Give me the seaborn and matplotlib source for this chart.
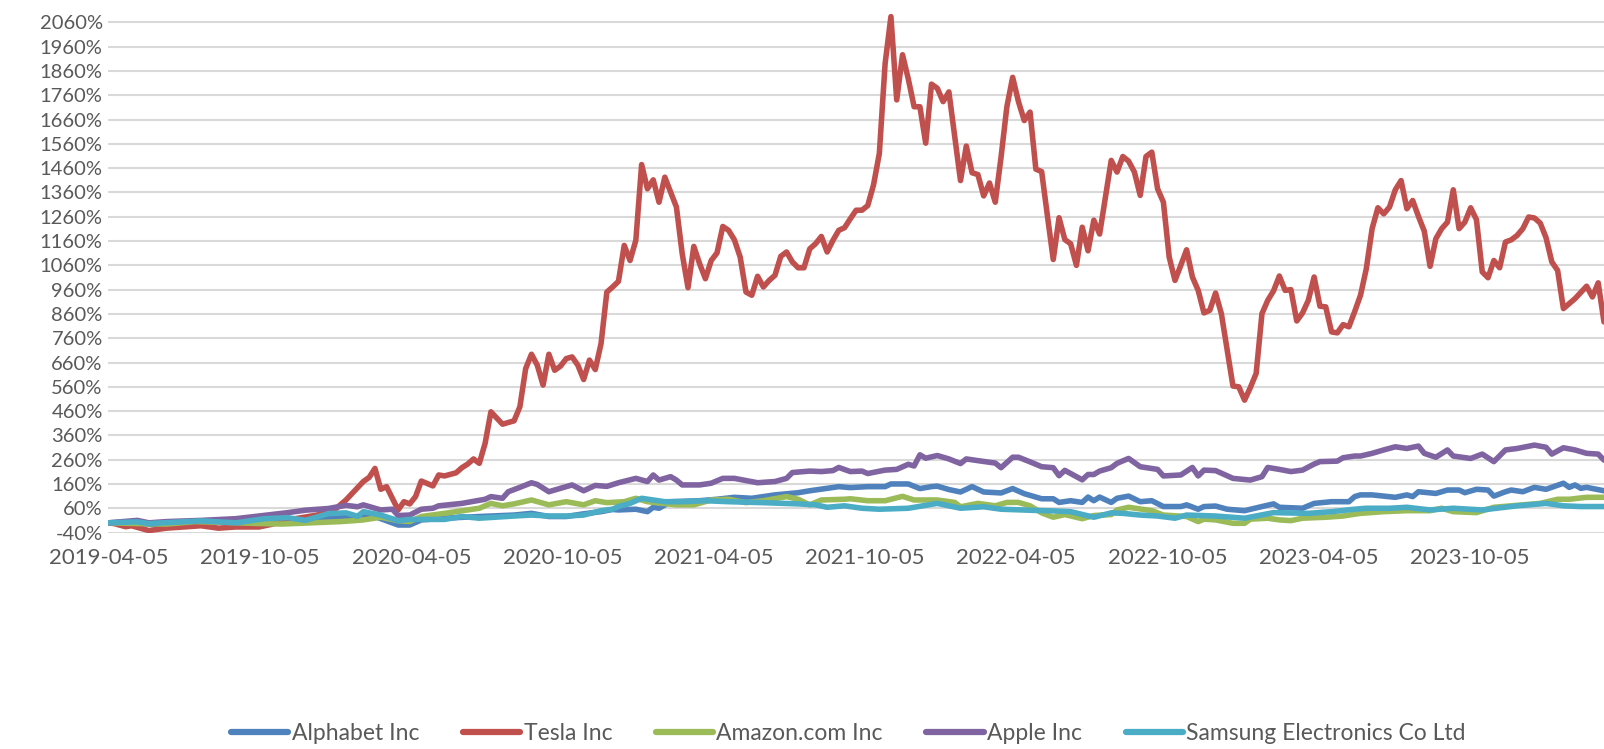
import numpy as np
import pandas as pd
import matplotlib
matplotlib.use("Agg")
import matplotlib.pyplot as plt
from matplotlib.lines import Line2D
import seaborn as sns

START = "2019-04-05"
END_WEEK = 258

# ---- data: weeks since 2019-04-05 and cumulative return (%) ----
tesla_weeks = [0, 1, 3, 4, 7, 10, 13, 16, 19, 22, 26, 28, 31, 36, 39, 41, 44, 45,
               46, 47, 48, 49, 50, 51, 52, 53, 54, 56, 57, 58, 60, 61, 62, 63, 64, 65,
               66, 68, 70, 71, 72, 73, 74, 75, 76, 77, 78, 79, 80, 81, 82, 83, 84, 85,
               86, 87, 88, 89, 90, 91, 92, 93, 94, 95, 96, 97, 98, 99, 100, 101, 102,
               103, 104, 105, 106, 107, 108, 109, 110, 111, 112, 113, 114, 115, 116,
               117, 118, 119, 120, 121, 122, 123, 124, 125, 126, 127, 128, 129, 130,
               131, 132, 133, 134, 135, 136, 137, 138, 139, 140, 141, 142, 143, 144,
               145, 146, 147, 148, 149, 150, 151, 152, 153, 154, 155, 156, 157, 158,
               159, 160, 161, 162, 163, 164, 165, 166, 167, 168, 169, 170, 171, 172,
               173, 174, 175, 176, 177, 178, 179, 180, 181, 182, 183, 184, 185, 186,
               187, 188, 189, 190, 191, 192, 193, 194, 195, 196, 197, 198, 199, 200,
               201, 202, 203, 204, 205, 206, 207, 208, 209, 210, 211, 212, 213, 214,
               215, 216, 217, 218, 219, 220, 221, 222, 223, 224, 225, 226, 227, 228,
               229, 230, 231, 232, 233, 234, 235, 236, 237, 238, 239, 240, 241, 242,
               243, 244, 245, 246, 247, 248, 249, 250, 251, 253, 255, 256, 257, 258]
tesla_vals = [0, -3, -16, -12, -32, -22, -17, -12, -22, -17, -17, -7, 12, 32, 53, 94, 170, 187,
              224, 138, 149, 101, 53, 87, 78, 108, 172, 152, 197, 193, 206, 227, 242, 263, 245, 327,
              457, 406, 420, 478, 635, 694, 649, 567, 694, 628, 645, 676, 683, 649, 590, 670, 631, 738,
              950, 971, 994, 1142, 1080, 1163, 1475, 1375, 1412, 1320, 1423, 1361, 1300, 1108, 968, 1138, 1067,
              1005, 1080, 1111, 1220, 1204, 1165, 1094, 950, 937, 1015, 971, 998, 1019, 1097,
              1115, 1074, 1050, 1050, 1128, 1149, 1179, 1115, 1163, 1204, 1215, 1252, 1287, 1287,
              1306, 1391, 1520, 1891, 2084, 1741, 1927, 1827, 1713, 1713, 1563, 1806, 1789, 1734,
              1774, 1591, 1409, 1551, 1441, 1434, 1346, 1399, 1320, 1506, 1713, 1834, 1734, 1656,
              1691, 1456, 1446, 1263, 1084, 1256, 1166, 1149, 1060, 1217, 1120, 1246, 1189, 1341,
              1492, 1444, 1508, 1489, 1444, 1348, 1508, 1526, 1375, 1320, 1094, 998, 1060, 1124,
              1012, 957, 864, 875, 946, 861, 711, 563, 560, 505, 557, 615, 861, 916,
              955, 1016, 957, 960, 831, 864, 916, 1012, 892, 889, 786, 782, 816, 807,
              870, 937, 1046, 1211, 1297, 1272, 1300, 1371, 1409, 1293, 1327, 1261, 1201, 1056,
              1170, 1211, 1238, 1371, 1211, 1238, 1297, 1248, 1033, 1009, 1080, 1050, 1156, 1165,
              1183, 1211, 1259, 1255, 1234, 1174, 1074, 1039, 882, 923, 974, 930, 988, 827]

apple_weeks = [0, 5, 7, 10, 16, 22, 27, 31, 34, 38, 41, 43, 44, 47, 49, 50, 52, 54, 56, 57,
               61, 65, 66, 68, 69, 71, 73, 74, 76, 78, 80, 82, 84, 86, 88, 91, 93, 94, 95,
               97, 98, 99, 102, 104, 106, 108, 112, 115, 117, 118, 121, 123, 125, 126, 128,
               130, 131, 134, 136, 138, 139, 140, 141, 143, 145, 147, 148, 150, 153, 154,
               156, 157, 159, 161, 163, 164, 165, 166, 168, 169, 170, 171, 173, 174, 176,
               178, 181, 182, 185, 187, 188, 189, 191, 194, 197, 199, 200, 202, 204, 206,
               208, 209, 212, 213, 215, 216, 218, 220, 222, 224, 226, 227, 229, 231, 232,
               235, 237, 239, 241, 243, 246, 248, 249, 251, 253, 255, 257, 258]
apple_vals = [0, 10, 0, 5, 10, 17, 31, 42, 52, 59, 72, 66, 74, 53, 56, 30, 32, 56, 60, 70,
              80, 97, 108, 101, 128, 146, 165, 158, 128, 142, 156, 132, 154, 150, 165, 183, 170, 197, 176,
              190, 176, 156, 156, 163, 183, 183, 165, 170, 183, 207, 213, 211, 215, 228, 211,
              213, 203, 217, 220, 241, 234, 280, 266, 277, 263, 244, 263, 256, 246, 227,
              270, 270, 251, 231, 227, 194, 216, 203, 177, 199, 199, 213, 227, 245, 265,
              231, 220, 193, 197, 228, 193, 217, 215, 183, 176, 190, 228, 220, 211, 217,
              242, 252, 254, 268, 275, 275, 286, 300, 313, 306, 316, 286, 270, 300, 275,
              265, 283, 252, 300, 306, 320, 311, 283, 309, 300, 286, 283, 258]

alphabet_weeks = [0, 4, 8, 12, 16, 20, 26, 30, 35, 40, 43, 46, 50, 52, 54, 58, 64, 70, 73,
                  76, 79, 82, 85, 87, 88, 91, 93, 94, 95, 97, 102, 105, 108, 111, 115, 119,
                  121, 124, 126, 128, 131, 134, 135, 138, 140, 142, 143, 145, 147, 149, 151,
                  154, 156, 158, 161, 163, 164, 166, 168, 169, 170, 171, 173, 174, 176, 178,
                  180, 182, 185, 186, 188, 189, 191, 193, 196, 199, 201, 202, 206, 208, 211,
                  214, 215, 216, 218, 222, 224, 225, 226, 229, 231, 233, 234, 236, 238, 239,
                  241, 242, 244, 246, 248, 251, 252, 253, 254, 255, 258]
alphabet_vals = [0, 2, -8, -10, 2, 5, 0, 8, 15, 22, 25, 26, -9, -9, 12, 19, 26, 32, 39,
                 26, 26, 37, 46, 55, 53, 56, 46, 64, 60, 87, 91, 97, 105, 101, 115, 124,
                 132, 142, 149, 145, 149, 149, 160, 160, 141, 149, 151, 137, 127, 149, 127,
                 123, 141, 120, 99, 99, 84, 91, 84, 106, 91, 106, 84, 101, 110, 87,
                 91, 67, 67, 74, 56, 67, 69, 56, 50, 67, 78, 64, 60, 80, 87,
                 87, 108, 115, 115, 105, 115, 108, 128, 121, 135, 135, 124, 138, 135, 110,
                 128, 135, 128, 146, 138, 163, 146, 156, 142, 146, 132]

amazon_weeks = [0, 5, 10, 15, 20, 26, 30, 35, 40, 43, 44, 47, 50, 52, 54, 58, 64, 66, 68,
                70, 73, 76, 79, 82, 84, 86, 89, 91, 93, 98, 101, 104, 107, 110, 113, 117,
                119, 121, 123, 127, 128, 131, 134, 137, 139, 143, 146, 147, 150, 153, 155,
                157, 159, 161, 163, 165, 168, 170, 173, 174, 176, 180, 182, 186, 188, 189,
                191, 194, 196, 197, 200, 202, 204, 206, 210, 213, 214, 216, 220, 224, 228,
                230, 232, 236, 239, 244, 247, 250, 252, 255, 258]
amazon_vals = [0, -3, -5, 5, 2, -3, -5, 0, 5, 10, 12, 23, 9, 5, 26, 39, 60, 80, 70,
               78, 94, 74, 87, 74, 91, 83, 87, 101, 87, 74, 74, 94, 97, 83, 91, 108,
               97, 74, 94, 97, 99, 91, 91, 109, 94, 94, 84, 66, 80, 70, 84,
               84, 70, 41, 23, 34, 17, 30, 34, 53, 64, 50, 32, 26, 5, 15,
               12, -2, -2, 15, 19, 12, 9, 19, 23, 28, 32, 39, 46, 50, 50,
               60, 46, 42, 64, 74, 80, 97, 97, 105, 105]

samsung_weeks = [0, 5, 7, 16, 22, 27, 31, 34, 38, 41, 43, 44, 47, 50, 52, 56, 58, 61, 64,
                 70, 73, 76, 79, 82, 85, 87, 88, 90, 92, 94, 96, 99, 103, 107, 113, 119,
                 122, 124, 127, 130, 133, 138, 143, 147, 151, 154, 160, 163, 166, 170, 173,
                 175, 178, 181, 184, 186, 191, 196, 201, 207, 211, 215, 217, 221, 224, 228,
                 232, 237, 243, 248, 251, 254, 258]
samsung_vals = [0, 4, -3, 8, 0, 17, 21, 10, 38, 41, 27, 46, 32, 9, 14, 14, 14, 26, 19,
                28, 32, 28, 28, 32, 50, 56, 67, 80, 101, 94, 87, 87, 91, 87, 83, 78,
                74, 64, 70, 60, 56, 60, 80, 60, 66, 56, 51, 49, 46, 23, 41,
                39, 32, 28, 19, 32, 28, 19, 42, 39, 46, 56, 60, 60, 64, 53,
                60, 53, 70, 80, 70, 67, 67]

series_names = ["Alphabet Inc", "Tesla Inc", "Amazon.com Inc", "Apple Inc",
                "Samsung Electronics Co Ltd"]
series_data = {
    "Alphabet Inc": (alphabet_weeks, alphabet_vals),
    "Tesla Inc": (tesla_weeks, tesla_vals),
    "Amazon.com Inc": (amazon_weeks, amazon_vals),
    "Apple Inc": (apple_weeks, apple_vals),
    "Samsung Electronics Co Ltd": (samsung_weeks, samsung_vals),
}
colors = ["#4F81BD", "#C0504D", "#9BBB59", "#8064A2", "#4BACC6"]

tick_labels = ["2019-04-05", "2019-10-05", "2020-04-05", "2020-10-05", "2021-04-05",
               "2021-10-05", "2022-04-05", "2022-10-05", "2023-04-05", "2023-10-05"]
y_ticks = list(range(-40, 2061, 100))

# ---- build long-form frame ----
start = pd.Timestamp(START)
frames = []
for name in series_names:
    w, v = series_data[name]
    frames.append(pd.DataFrame({
        "date": start + pd.to_timedelta(np.array(w) * 7, unit="D"),
        "value": v,
        "company": name,
    }))
df = pd.concat(frames, ignore_index=True)

sns.set_theme(style="white")
plt.rcParams["font.family"] = ["Lato", "DejaVu Sans"]

fig = plt.figure(figsize=(16.04, 7.49), dpi=100)
ax = fig.add_axes([0.0675, 0.289, 0.9325, 0.694])

palette = dict(zip(series_names, colors))
sns.lineplot(data=df, x="date", y="value", hue="company", hue_order=series_names,
             palette=palette, estimator=None, sort=True, linewidth=4.0, ax=ax,
             legend=False)
for ln in ax.lines:
    ln.set_solid_joinstyle("round")
    ln.set_solid_capstyle("round")

ax.set_xlim(start, start + pd.Timedelta(days=7 * END_WEEK))
ax.set_ylim(-40, 2100)
ax.set_yticks(y_ticks)
ax.set_yticklabels([f"{t}%" for t in y_ticks])
ax.yaxis.grid(True, color="#D9D9D9", linewidth=1.5)
ax.xaxis.grid(False)
ax.set_axisbelow(True)

ax.set_xticks([pd.Timestamp(t) for t in tick_labels])
ax.set_xticklabels(tick_labels)
ax.tick_params(axis="x", direction="in", length=7, width=1.2, color="#D9D9D9",
               labelsize=16, labelcolor="#595959", pad=11)
ax.tick_params(axis="y", length=0, labelsize=14.5, labelcolor="#595959", pad=4)
ax.set_xlabel("")
ax.set_ylabel("")
for s in ax.spines.values():
    s.set_visible(False)

handles = [Line2D([0], [0], color=c, linewidth=4.5, solid_capstyle="round") for c in colors]
fig.legend(handles, series_names, loc="center", bbox_to_anchor=(0.529, 0.021), ncol=5,
           frameon=False, fontsize=16.5, labelcolor="#595959", handlelength=2.5,
           handletextpad=0.15, columnspacing=1.9)

fig.savefig("out.png", dpi=100)
